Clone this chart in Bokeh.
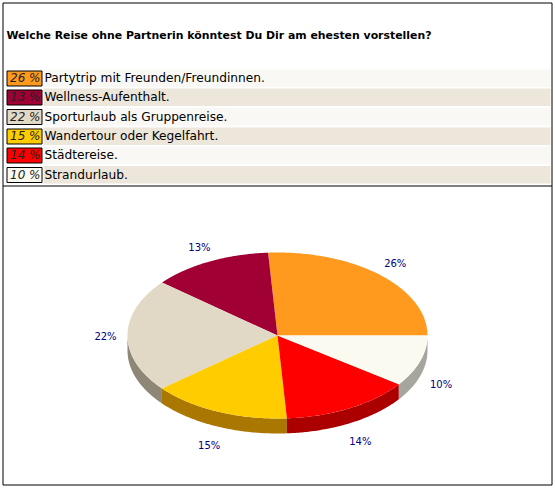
import numpy as np
from bokeh.plotting import figure
from bokeh.models import Range1d
from bokeh.core.properties import value
from bokeh.embed import file_html
from bokeh.resources import INLINE

title = "Welche Reise ohne Partnerin könntest Du Dir am ehesten vorstellen?"
answers = ["Partytrip mit Freunden/Freundinnen.", "Wellness-Aufenthalt.", "Sporturlaub als Gruppenreise.",
           "Wandertour oder Kegelfahrt.", "Städtereise.", "Strandurlaub."]
percents = [26, 13, 22, 15, 14, 10]
colors = ["#FF9A1F", "#A00033", "#E2D8C6", "#FFCC00", "#FF0000", "#FBFAF0"]
shades = ["#AA6714", "#6B0022", "#8E8778", "#AA7700", "#AA0000", "#A7A69E"]
row_colors = ["#FAF8F4", "#ECE6DB"]

W, H = 555, 488
FONT = value("DejaVu Sans")
p = figure(width=W, height=H, output_backend="svg", toolbar_location=None,
           x_range=Range1d(0, W), y_range=Range1d(H, 0), min_border=0,
           outline_line_color=None, background_fill_color="white",
           x_axis_type=None, y_axis_type=None)
p.grid.visible = False

# frame
p.quad(left=[2.5], right=[551.5], top=[2.5], bottom=[484.5], fill_color=None, line_color="black", line_width=1)
p.segment(x0=[2.5], x1=[551.5], y0=[185.5], y1=[185.5], line_color="black", line_width=1)

p.text(x=[6], y=[35], text=[title], text_font=FONT, text_font_size="10.9px", text_font_style="bold",
       text_baseline="middle", text_color="black")

# list rows
row_tops = [69, 88, 107.5, 127, 146, 165.5]
row_h = 17.5
for i, (a, v) in enumerate(zip(answers, percents)):
    t = row_tops[i]
    p.quad(left=[43], right=[550], top=[t], bottom=[t + row_h], fill_color=row_colors[i % 2], line_color=None)
    p.quad(left=[6.5], right=[41.5], top=[t + 1.5], bottom=[t + 16.5], fill_color=colors[i], line_color="black", line_width=1)
    p.text(x=[40], y=[t + 8.5], text=[f"{v} %"], text_font=FONT, text_font_size="12px", text_font_style="italic",
           text_align="right", text_baseline="middle", text_color="#222222")
    p.text(x=[44], y=[t + 8.5], text=[a], text_font=FONT, text_font_size="12.2px",
           text_baseline="middle", text_color="black")

# pie, from the values
cx, cy, rx, ry, depth = 277, 335, 150, 83, 15
fractions = np.array(percents) / sum(percents)
edges = np.concatenate([[0], np.cumsum(fractions)]) * 2 * np.pi

# rim of the lower half
for i in range(len(percents)):
    a0, a1 = max(edges[i], np.pi), edges[i + 1]
    if a1 <= a0:
        continue
    th = np.linspace(a0, a1, 80)
    xs = cx + rx * np.cos(th)
    ys = cy - ry * np.sin(th)
    p.patch(np.concatenate([xs, xs[::-1]]), np.concatenate([ys, ys[::-1] + depth]),
            fill_color=shades[i], line_color=None)

for i in range(len(percents)):
    th = np.linspace(edges[i], edges[i + 1], 120)
    p.patch(np.concatenate([[cx], cx + rx * np.cos(th)]), np.concatenate([[cy], cy - ry * np.sin(th)]),
            fill_color=colors[i], line_color=None)

mids = (edges[:-1] + edges[1:]) / 2
lx = cx + 172 * np.cos(mids)
ly = cy + 1 - 100 * np.sin(mids) + np.where(np.sin(mids) < 0, 17, 0)
p.text(x=lx, y=ly, text=[f"{v}%" for v in percents], text_font=FONT, text_font_size="10px",
       text_align="center", text_baseline="middle", text_color="#000080")

open("out.html", "w").write(file_html(p, INLINE))
